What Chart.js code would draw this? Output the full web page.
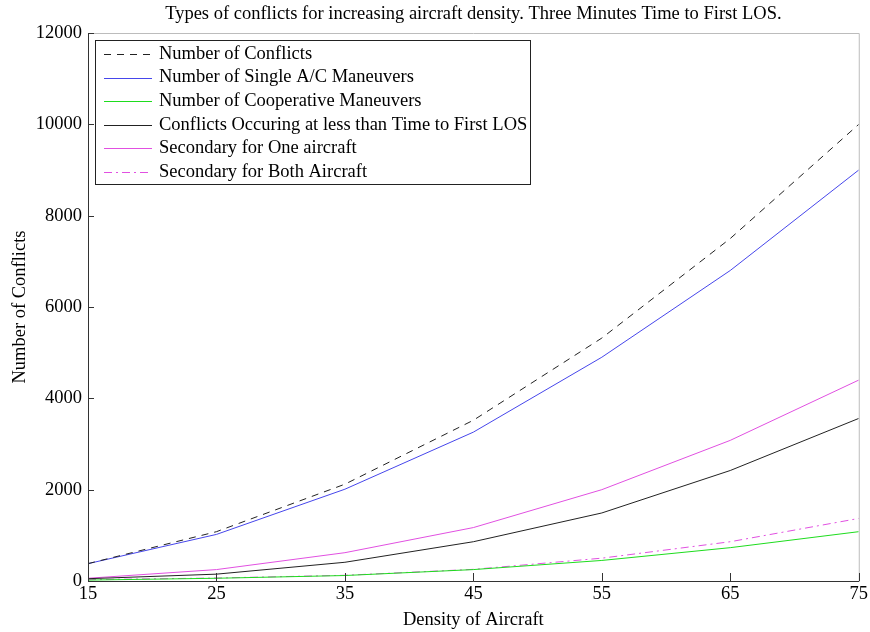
<!DOCTYPE html>
<html>
<head>
<meta charset="utf-8">
<script src="https://cdn.jsdelivr.net/npm/chart.js@4/dist/chart.umd.min.js"></script>
<style>
  html, body { margin: 0; padding: 0; background: #fff; }
  #wrap { width: 870px; height: 632px; }
</style>
</head>
<body>
<div id="wrap"><canvas id="grafico" width="870" height="632"></canvas></div>
<script>
// densidade de aeronaves (eixo x)
const densidade = [15, 25, 35, 45, 55, 65, 75];

// séries
const numConflitos      = [380, 1080, 2120, 3520, 5320, 7500, 10000];
const manobrasSimples   = [380, 1020, 2010, 3260, 4900, 6800, 9000];
const manobrasCoop      = [20, 60, 120, 250, 450, 730, 1080];
const conflitosMenosLOS = [50, 150, 410, 860, 1490, 2420, 3560];
const secundarioUm      = [60, 250, 620, 1170, 2000, 3080, 4400];
const secundarioAmbos   = [30, 65, 125, 255, 500, 860, 1370];

const yTicks = [0, 2000, 4000, 6000, 8000, 10000, 12000];

const fonte = '"Liberation Serif", "Times New Roman", serif';
const tamanho = 18.5;

// caixa dos eixos, marcas internas, título e legenda
const eixosPlugin = {
    id: 'eixos',
    afterDatasetsDraw(chart) {
        const ctx = chart.ctx;
        const a = chart.chartArea;
        const xs = chart.scales.x, ys = chart.scales.y;
        ctx.save();
        ctx.lineWidth = 1;
        // topo e direita
        ctx.strokeStyle = '#bcbcbc';
        ctx.beginPath();
        ctx.moveTo(a.left, a.top + 0.5); ctx.lineTo(a.right + 0.5, a.top + 0.5);
        ctx.lineTo(a.right + 0.5, a.bottom);
        ctx.stroke();
        // esquerda e base
        ctx.strokeStyle = '#333';
        ctx.beginPath();
        ctx.moveTo(a.left + 0.5, a.top); ctx.lineTo(a.left + 0.5, a.bottom + 0.5);
        ctx.lineTo(a.right + 0.5, a.bottom + 0.5);
        ctx.stroke();
        // marcas
        ctx.beginPath();
        yTicks.forEach(v => {
            const y = Math.round(ys.getPixelForValue(v)) + 0.5;
            ctx.moveTo(a.left, y); ctx.lineTo(a.left + 6, y);
        });
        densidade.forEach(v => {
            const x = Math.round(xs.getPixelForValue(v)) + 0.5;
            ctx.moveTo(x, a.bottom); ctx.lineTo(x, a.bottom - 8);
        });
        ctx.stroke();

        // título
        ctx.fillStyle = '#000';
        ctx.font = tamanho + 'px ' + fonte;
        ctx.textAlign = 'center';
        ctx.textBaseline = 'middle';
        ctx.fillText('Types of conflicts for increasing aircraft density. Three Minutes Time to First LOS.',
            (a.left + a.right) / 2, 14);

        // legenda
        const bx = 95, by = 40, bw = 435, bh = 144;
        ctx.fillStyle = '#fff';
        ctx.fillRect(bx, by, bw, bh);
        ctx.strokeStyle = '#222';
        ctx.strokeRect(bx + 0.5, by + 0.5, bw, bh);
        ctx.textAlign = 'left';
        chart.data.datasets.forEach((ds, i) => {
            const y = by + 14 + i * 23.6;
            ctx.strokeStyle = ds.borderColor;
            ctx.setLineDash(ds.borderDash || []);
            ctx.beginPath();
            ctx.moveTo(104, Math.round(y) + 0.5); ctx.lineTo(152, Math.round(y) + 0.5);
            ctx.stroke();
            ctx.setLineDash([]);
            ctx.fillStyle = '#000';
            ctx.fillText(ds.label, 159, y);
        });
        ctx.restore();
    }
};

function serie(label, dados, cor, tracejado) {
    return {
        label: label,
        data: densidade.map((d, i) => ({ x: d, y: dados[i] })),
        borderColor: cor,
        borderWidth: 1,
        borderDash: tracejado,
        pointRadius: 0,
        fill: false,
        tension: 0
    };
}

const ctx = document.getElementById('grafico').getContext('2d');
const chartInstance = new Chart(ctx, {
    type: 'line',
    data: {
        datasets: [
            serie('Number of Conflicts', numConflitos, '#222', [7, 6]),
            serie('Number of Single A/C Maneuvers', manobrasSimples, 'rgb(70,70,235)', []),
            serie('Number of Cooperative Maneuvers', manobrasCoop, 'rgb(30,220,30)', []),
            serie('Conflicts Occuring at less than Time to First LOS', conflitosMenosLOS, '#222', []),
            serie('Secondary for One aircraft', secundarioUm, 'rgb(225,80,225)', []),
            serie('Secondary for Both Aircraft', secundarioAmbos, 'rgb(225,80,225)', [8, 4, 2, 4])
        ]
    },
    options: {
        responsive: false,
        animation: false,
        layout: { padding: { top: 33, right: 10, left: 0, bottom: 0 } },
        plugins: {
            legend: { display: false },
            title: { display: false },
            tooltip: { enabled: false }
        },
        scales: {
            x: {
                type: 'linear',
                min: 15, max: 75,
                afterFit: s => { s.height = 51; },
                afterBuildTicks: s => { s.ticks = densidade.map(v => ({ value: v })); },
                grid: { display: false, drawTicks: false },
                border: { display: false },
                ticks: { color: '#000', padding: 2, maxRotation: 0, callback: v => String(v),
                         font: { family: fonte, size: tamanho } },
                title: { display: true, text: 'Density of Aircraft', color: '#000',
                         padding: { top: 0, bottom: 1 }, font: { family: fonte, size: tamanho } }
            },
            y: {
                type: 'linear',
                min: 0, max: 12000,
                afterFit: s => { s.width = 88; },
                afterBuildTicks: s => { s.ticks = yTicks.map(v => ({ value: v })); },
                grid: { display: false, drawTicks: false },
                border: { display: false },
                ticks: { color: '#000', padding: 6, callback: v => String(v),
                         font: { family: fonte, size: tamanho } },
                title: { display: true, text: 'Number of Conflicts', color: '#000',
                         padding: { top: 9, bottom: 0 }, font: { family: fonte, size: tamanho } }
            }
        }
    },
    plugins: [eixosPlugin]
});
</script>
</body>
</html>
